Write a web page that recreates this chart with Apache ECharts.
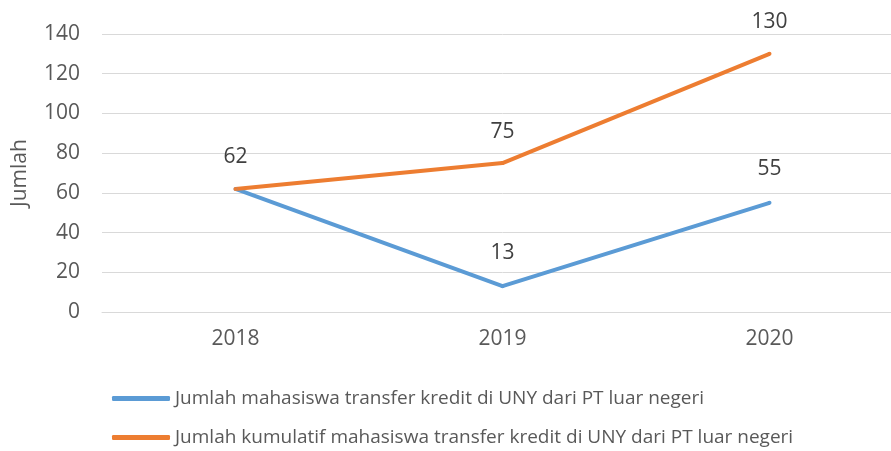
<!DOCTYPE html>
<html><head><meta charset="utf-8">
<script src="https://cdn.jsdelivr.net/npm/echarts@6/dist/echarts.min.js"></script>
<style>html,body{margin:0;padding:0;background:#fff;overflow:hidden}#c{width:903px;height:451px}</style>
</head><body><div id="c"></div>
<script>
const categories = ['2018', '2019', '2020'];
const transferValues = [62, 13, 55];
const cumulativeValues = [62, 75, 130];
const yTicks = { min: 0, max: 140, interval: 20 };
const seriesNames = [
  'Jumlah mahasiswa transfer kredit di UNY dari PT luar negeri',
  'Jumlah kumulatif mahasiswa transfer kredit di UNY dari PT luar negeri'
];

const chart = echarts.init(document.getElementById('c'));
const font = 'Open Sans, Liberation Sans, sans-serif';
chart.setOption({
  animation: false,
  grid: { left: 102, right: 0, top: 34, bottom: 139 },
  legend: {
    orient: 'vertical', left: 107, top: 384, height: 100, itemGap: 20,
    icon: 'roundRect', itemWidth: 58, itemHeight: 5,
    textStyle: { color: '#595959', fontSize: 19, fontFamily: font },
    data: seriesNames
  },
  xAxis: {
    type: 'category', data: categories, boundaryGap: true,
    axisLine: { lineStyle: { color: '#d9d9d9', width: 1 } },
    axisTick: { show: false },
    axisLabel: { color: '#595959', fontSize: 21, fontFamily: font, margin: 17 }
  },
  yAxis: {
    type: 'value', min: yTicks.min, max: yTicks.max, interval: yTicks.interval,
    name: 'Jumlah', nameLocation: 'middle', nameGap: 71,
    nameTextStyle: { color: '#595959', fontSize: 21, fontFamily: font },
    axisLine: { show: false }, axisTick: { show: false },
    axisLabel: { color: '#595959', fontSize: 21, fontFamily: font, margin: 22 },
    splitLine: { lineStyle: { color: '#d9d9d9', width: 1 } }
  },
  series: [
    {
      name: seriesNames[0], type: 'line', data: transferValues,
      symbol: 'circle', symbolSize: 4, showSymbol: true,
      lineStyle: { color: '#5B9BD5', width: 4 }, itemStyle: { color: '#5B9BD5' },
      label: { show: true, position: 'top', distance: 21, color: '#404040', fontSize: 21, fontFamily: font,
        formatter: p => p.dataIndex === 0 ? '' : String(p.value) }
    },
    {
      name: seriesNames[1], type: 'line', data: cumulativeValues,
      symbol: 'circle', symbolSize: 4, showSymbol: true,
      lineStyle: { color: '#ED7D31', width: 4 }, itemStyle: { color: '#ED7D31' },
      label: { show: true, position: 'top', distance: 19, color: '#404040', fontSize: 21, fontFamily: font }
    }
  ]
});
</script></body></html>
